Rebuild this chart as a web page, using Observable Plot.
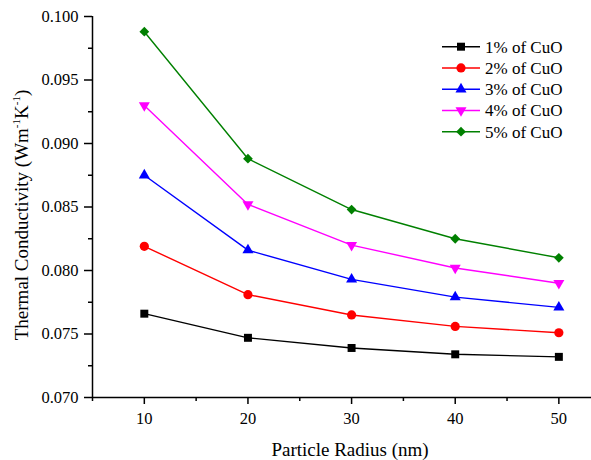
<!DOCTYPE html>
<html><head><meta charset="utf-8">
<script src="https://cdn.jsdelivr.net/npm/d3@7"></script>
<script src="https://cdn.jsdelivr.net/npm/@observablehq/plot@0.6"></script>
<style>body{margin:0;background:#fff} svg text{font-family:"Liberation Serif","Times New Roman",serif !important;}</style>
</head><body><div id="chart"></div>
<script>
const radius = [10, 20, 30, 40, 50];
const seriesNames = ["1% of CuO", "2% of CuO", "3% of CuO", "4% of CuO", "5% of CuO"];
const k1 = [0.0766, 0.0747, 0.0739, 0.0734, 0.0732];
const k2 = [0.0819, 0.0781, 0.0765, 0.0756, 0.0751];
const k3 = [0.0875, 0.0816, 0.0793, 0.0779, 0.0771];
const k4 = [0.0930, 0.0852, 0.0820, 0.0802, 0.0790];
const k5 = [0.0988, 0.0888, 0.0848, 0.0825, 0.0810];
const xMajorTicks = [10, 20, 30, 40, 50];
const xMinorTicks = [5, 15, 25, 35, 45];
const yMajorTicks = [0.070, 0.075, 0.080, 0.085, 0.090, 0.095, 0.100];
const yMinorTicks = [0.0725, 0.0775, 0.0825, 0.0875, 0.0925, 0.0975];

const seriesValues = [k1, k2, k3, k4, k5];
const colors = ["#000000", "#ff0000", "#0000ff", "#ff00ff", "#008000"];
const triangleDown = {
  draw(context, size) {
    const y = Math.sqrt(size / (3 * Math.sqrt(3)));
    context.moveTo(0, 2 * y);
    context.lineTo(-Math.sqrt(3) * y, -y);
    context.lineTo(Math.sqrt(3) * y, -y);
    context.closePath();
  }
};
const symbols = [d3.symbolSquare, d3.symbolCircle, d3.symbolTriangle, triangleDown, d3.symbolDiamond2];
const radii = [4.5, 4.6, 4.1, 4.1, 4.4];

const xDomain = [5, 53.15];
const yDomain = [0.070, 0.100];

const rows = [];
seriesNames.forEach((s, i) => radius.forEach((r, j) => rows.push({series: s, idx: i, radius: r, k: seriesValues[i][j]})));

const marks = [
  Plot.axisY({ticks: yMajorTicks, tickSize: 8, tickPadding: 6, tickFormat: d3.format(".3f"), label: null, strokeWidth: 1.5, fontSize: 16.5}),
  Plot.axisY({ticks: yMinorTicks, tickSize: 4, tickFormat: () => "", label: null, strokeWidth: 1.5}),
  Plot.axisX({ticks: xMajorTicks, tickSize: 7, tickFormat: () => "", label: null, strokeWidth: 1.5}),
  Plot.axisX({ticks: xMinorTicks, tickSize: 4, tickFormat: () => "", label: null, strokeWidth: 1.5}),
  Plot.text(xMajorTicks, {x: d => d, text: d3.format("d"), frameAnchor: "bottom", dy: 21, lineAnchor: "middle", fontSize: 16.5, fill: "#000"}),
  Plot.ruleX([xDomain[0]], {strokeWidth: 1.5}),
  Plot.ruleY([yDomain[0]], {strokeWidth: 1.5})
];
seriesNames.forEach((s, i) => {
  const d = rows.filter(r => r.idx === i);
  marks.push(Plot.line(d, {x: "radius", y: "k", stroke: colors[i], strokeWidth: 1.4}));
});
seriesNames.forEach((s, i) => {
  const d = rows.filter(r => r.idx === i);
  marks.push(Plot.dot(d, {x: "radius", y: "k", fill: colors[i], symbol: symbols[i], r: radii[i], stroke: "none"}));
});

const svg = Plot.plot({
  width: 591, height: 460,
  marginLeft: 92, marginRight: 0, marginTop: 16, marginBottom: 63,
  style: "font-family: 'Liberation Serif', serif; font-size: 16.5px; color: #000; background: #fff;",
  x: {domain: xDomain},
  y: {domain: yDomain},
  marks
});
svg.setAttribute("font-family", "Liberation Serif, serif");
document.getElementById("chart").appendChild(svg);

const g = d3.select(svg).append("g").attr("font-family", "Liberation Serif, serif").attr("fill", "#000").attr("text-anchor", "start");
g.append("text").attr("x", 350).attr("y", 456).attr("text-anchor", "middle").attr("font-size", 19).text("Particle Radius (nm)");
const yt = g.append("text").attr("transform", "translate(28,215) rotate(-90)").attr("text-anchor", "middle").attr("font-size", 19);
yt.append("tspan").text("Thermal Conductivity (Wm");
yt.append("tspan").attr("font-size", 11).attr("dy", -8).text("-1");
yt.append("tspan").attr("dy", 8).text("K");
yt.append("tspan").attr("font-size", 11).attr("dy", -8).text("-1");
yt.append("tspan").attr("dy", 8).text(")");

const legend = g.append("g");
seriesNames.forEach((s, i) => {
  const y = 46.7 + i * 21.25;
  legend.append("line").attr("x1", 442).attr("x2", 480).attr("y1", y).attr("y2", y).attr("stroke", colors[i]).attr("stroke-width", 1.5);
  legend.append("path").attr("transform", `translate(461,${y})`).attr("d", d3.symbol(symbols[i], Math.PI * radii[i] * radii[i])()).attr("fill", colors[i]);
  legend.append("text").attr("x", 485).attr("y", y).attr("dy", "0.35em").attr("font-size", 17).attr("text-anchor", "start").text(s);
});
</script></body></html>
